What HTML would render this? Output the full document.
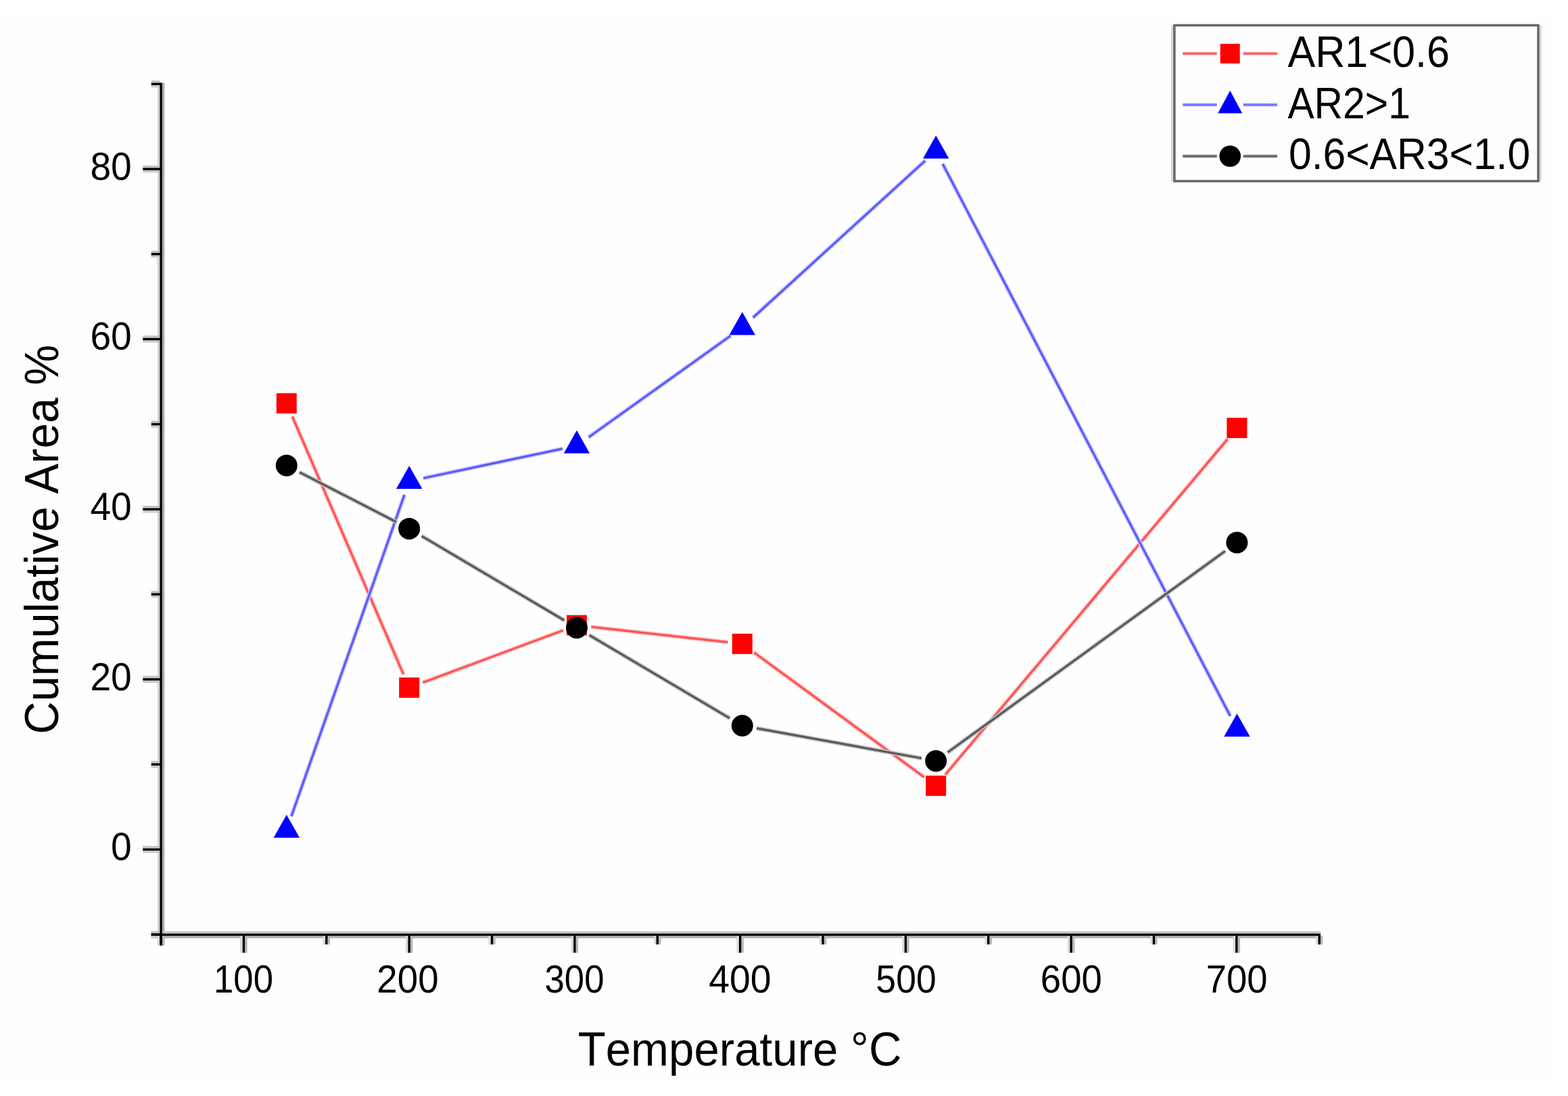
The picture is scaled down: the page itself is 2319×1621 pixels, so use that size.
<!DOCTYPE html><html><head><meta charset="utf-8"><title>Cumulative Area vs Temperature</title><style>html,body{margin:0;padding:0;background:#ffffff;overflow:hidden;}svg{display:block;}text{font-family:"Liberation Sans",Arial,sans-serif;fill:#000;font-kerning:none;font-feature-settings:"kern" 0;}</style></head><body>
<svg width="2319" height="1621" viewBox="0 0 2319 1621">
<rect x="0" y="0" width="2319" height="1621" fill="#ffffff"/>
<rect x="0" y="24.4" width="2301.4" height="1573.3" fill="#fefefe"/>
<rect x="232.90" y="122.50" width="3.50" height="1276.00" fill="#d3d3d3"/>
<rect x="239.80" y="122.50" width="3.50" height="1276.00" fill="#aaaaaa"/>
<rect x="223.70" y="1377.20" width="1729.21" height="3.50" fill="#c9c9c9"/>
<rect x="223.70" y="1384.10" width="1729.21" height="3.50" fill="#b0b0b0"/>
<rect x="211.30" y="1251.20" width="25.10" height="3.50" fill="#c4c4c4"/>
<rect x="211.30" y="1258.10" width="25.10" height="3.50" fill="#cacaca"/>
<rect x="211.30" y="999.60" width="25.10" height="3.50" fill="#c4c4c4"/>
<rect x="211.30" y="1006.50" width="25.10" height="3.50" fill="#cacaca"/>
<rect x="211.30" y="748.00" width="25.10" height="3.50" fill="#c4c4c4"/>
<rect x="211.30" y="754.90" width="25.10" height="3.50" fill="#cacaca"/>
<rect x="211.30" y="496.40" width="25.10" height="3.50" fill="#c4c4c4"/>
<rect x="211.30" y="503.30" width="25.10" height="3.50" fill="#cacaca"/>
<rect x="211.30" y="244.80" width="25.10" height="3.50" fill="#c4c4c4"/>
<rect x="211.30" y="251.70" width="25.10" height="3.50" fill="#cacaca"/>
<rect x="223.70" y="1377.00" width="12.70" height="3.50" fill="#c4c4c4"/>
<rect x="223.70" y="1383.90" width="12.70" height="3.50" fill="#cacaca"/>
<rect x="223.70" y="1125.40" width="12.70" height="3.50" fill="#c4c4c4"/>
<rect x="223.70" y="1132.30" width="12.70" height="3.50" fill="#cacaca"/>
<rect x="223.70" y="873.80" width="12.70" height="3.50" fill="#c4c4c4"/>
<rect x="223.70" y="880.70" width="12.70" height="3.50" fill="#cacaca"/>
<rect x="223.70" y="622.20" width="12.70" height="3.50" fill="#c4c4c4"/>
<rect x="223.70" y="629.10" width="12.70" height="3.50" fill="#cacaca"/>
<rect x="223.70" y="370.60" width="12.70" height="3.50" fill="#c4c4c4"/>
<rect x="223.70" y="377.50" width="12.70" height="3.50" fill="#cacaca"/>
<rect x="223.70" y="119.00" width="12.70" height="3.50" fill="#c4c4c4"/>
<rect x="223.70" y="125.90" width="12.70" height="3.50" fill="#cacaca"/>
<rect x="355.26" y="1384.10" width="3.50" height="25.10" fill="#dadada"/>
<rect x="362.16" y="1384.10" width="3.50" height="25.10" fill="#b8b8b8"/>
<rect x="599.99" y="1384.10" width="3.50" height="25.10" fill="#dadada"/>
<rect x="606.89" y="1384.10" width="3.50" height="25.10" fill="#b8b8b8"/>
<rect x="844.72" y="1384.10" width="3.50" height="25.10" fill="#dadada"/>
<rect x="851.62" y="1384.10" width="3.50" height="25.10" fill="#b8b8b8"/>
<rect x="1089.45" y="1384.10" width="3.50" height="25.10" fill="#dadada"/>
<rect x="1096.36" y="1384.10" width="3.50" height="25.10" fill="#b8b8b8"/>
<rect x="1334.18" y="1384.10" width="3.50" height="25.10" fill="#dadada"/>
<rect x="1341.08" y="1384.10" width="3.50" height="25.10" fill="#b8b8b8"/>
<rect x="1578.91" y="1384.10" width="3.50" height="25.10" fill="#dadada"/>
<rect x="1585.81" y="1384.10" width="3.50" height="25.10" fill="#b8b8b8"/>
<rect x="1823.64" y="1384.10" width="3.50" height="25.10" fill="#dadada"/>
<rect x="1830.54" y="1384.10" width="3.50" height="25.10" fill="#b8b8b8"/>
<rect x="232.90" y="1384.10" width="3.50" height="12.70" fill="#dadada"/>
<rect x="239.80" y="1384.10" width="3.50" height="12.70" fill="#b8b8b8"/>
<rect x="477.63" y="1384.10" width="3.50" height="12.70" fill="#dadada"/>
<rect x="484.53" y="1384.10" width="3.50" height="12.70" fill="#b8b8b8"/>
<rect x="722.36" y="1384.10" width="3.50" height="12.70" fill="#dadada"/>
<rect x="729.26" y="1384.10" width="3.50" height="12.70" fill="#b8b8b8"/>
<rect x="967.09" y="1384.10" width="3.50" height="12.70" fill="#dadada"/>
<rect x="973.99" y="1384.10" width="3.50" height="12.70" fill="#b8b8b8"/>
<rect x="1211.82" y="1384.10" width="3.50" height="12.70" fill="#dadada"/>
<rect x="1218.72" y="1384.10" width="3.50" height="12.70" fill="#b8b8b8"/>
<rect x="1456.55" y="1384.10" width="3.50" height="12.70" fill="#dadada"/>
<rect x="1463.45" y="1384.10" width="3.50" height="12.70" fill="#b8b8b8"/>
<rect x="1701.28" y="1384.10" width="3.50" height="12.70" fill="#dadada"/>
<rect x="1708.18" y="1384.10" width="3.50" height="12.70" fill="#b8b8b8"/>
<rect x="1946.01" y="1384.10" width="3.50" height="12.70" fill="#dadada"/>
<rect x="1952.91" y="1384.10" width="3.50" height="12.70" fill="#b8b8b8"/>
<rect x="236.40" y="122.50" width="3.40" height="1276.00" fill="#000"/>
<rect x="223.70" y="1380.70" width="1729.21" height="3.40" fill="#000"/>
<rect x="211.30" y="1254.70" width="26.80" height="3.40" fill="#000"/>
<rect x="211.30" y="1003.10" width="26.80" height="3.40" fill="#000"/>
<rect x="211.30" y="751.50" width="26.80" height="3.40" fill="#000"/>
<rect x="211.30" y="499.90" width="26.80" height="3.40" fill="#000"/>
<rect x="211.30" y="248.30" width="26.80" height="3.40" fill="#000"/>
<rect x="223.70" y="1380.50" width="14.40" height="3.40" fill="#000"/>
<rect x="223.70" y="1128.90" width="14.40" height="3.40" fill="#000"/>
<rect x="223.70" y="877.30" width="14.40" height="3.40" fill="#000"/>
<rect x="223.70" y="625.70" width="14.40" height="3.40" fill="#000"/>
<rect x="223.70" y="374.10" width="14.40" height="3.40" fill="#000"/>
<rect x="223.70" y="122.50" width="14.40" height="3.40" fill="#000"/>
<rect x="358.76" y="1382.40" width="3.40" height="26.80" fill="#000"/>
<rect x="603.49" y="1382.40" width="3.40" height="26.80" fill="#000"/>
<rect x="848.22" y="1382.40" width="3.40" height="26.80" fill="#000"/>
<rect x="1092.95" y="1382.40" width="3.40" height="26.80" fill="#000"/>
<rect x="1337.68" y="1382.40" width="3.40" height="26.80" fill="#000"/>
<rect x="1582.41" y="1382.40" width="3.40" height="26.80" fill="#000"/>
<rect x="1827.14" y="1382.40" width="3.40" height="26.80" fill="#000"/>
<rect x="236.40" y="1382.40" width="3.40" height="14.40" fill="#000"/>
<rect x="481.13" y="1382.40" width="3.40" height="14.40" fill="#000"/>
<rect x="725.86" y="1382.40" width="3.40" height="14.40" fill="#000"/>
<rect x="970.59" y="1382.40" width="3.40" height="14.40" fill="#000"/>
<rect x="1215.32" y="1382.40" width="3.40" height="14.40" fill="#000"/>
<rect x="1460.05" y="1382.40" width="3.40" height="14.40" fill="#000"/>
<rect x="1704.78" y="1382.40" width="3.40" height="14.40" fill="#000"/>
<rect x="1949.51" y="1382.40" width="3.40" height="14.40" fill="#000"/>
<text transform="translate(164.07,1272.20) scale(0.9680,1)" font-size="57">0</text>
<text transform="translate(133.38,1020.60) scale(0.9680,1)" font-size="57">20</text>
<text transform="translate(133.38,769.00) scale(0.9680,1)" font-size="57">40</text>
<text transform="translate(133.38,517.40) scale(0.9680,1)" font-size="57">60</text>
<text transform="translate(133.38,265.80) scale(0.9680,1)" font-size="57">80</text>
<text transform="translate(315.98,1468.40) scale(0.9262,1)" font-size="57">100</text>
<text transform="translate(557.25,1468.40) scale(0.9610,1)" font-size="57">200</text>
<text transform="translate(805.49,1468.40) scale(0.9261,1)" font-size="57">300</text>
<text transform="translate(1048.23,1468.40) scale(0.9720,1)" font-size="57">400</text>
<text transform="translate(1295.36,1468.40) scale(0.9394,1)" font-size="57">500</text>
<text transform="translate(1538.83,1468.40) scale(0.9569,1)" font-size="57">600</text>
<text transform="translate(1783.71,1468.40) scale(0.9561,1)" font-size="57">700</text>
<text transform="translate(854.69,1575.80) scale(0.9602,1)" font-size="70">Temperature °C</text>
<text transform="translate(86.30,1085.92) rotate(-90) scale(0.9619,1)" font-size="70">Cumulative Area %</text>
<path d="M432.3 616.2L596.7 997.3M625.3 1009.5L832.9 932.2M874.4 927.1L1076.4 949.9M1115.1 965.0L1366.9 1149.5M1398.0 1145.7L1815.6 649.4" stroke="#ffc4c4" stroke-width="6.4" fill="none"/>
<path d="M432.3 616.2L596.7 997.3M625.3 1009.5L832.9 932.2M874.4 927.1L1076.4 949.9M1115.1 965.0L1366.9 1149.5M1398.0 1145.7L1815.6 649.4" stroke="#ff5252" stroke-width="3.2" fill="none"/>
<path d="M430.9 1207.4L598.1 731.9M626.2 707.2L832.0 663.6M870.5 646.7L1080.3 496.7M1113.7 469.7L1368.3 237.7M1394.1 242.3L1819.5 1059.1" stroke="#c8c8ff" stroke-width="6.4" fill="none"/>
<path d="M430.9 1207.4L598.1 731.9M626.2 707.2L832.0 663.6M870.5 646.7L1080.3 496.7M1113.7 469.7L1368.3 237.7M1394.1 242.3L1819.5 1059.1" stroke="#5a5aff" stroke-width="3.2" fill="none"/>
<path d="M442.9 698.3L586.1 772.0M623.7 792.8L834.5 917.5M871.5 939.3L1079.3 1062.3M1119.0 1077.1L1363.0 1121.5M1401.6 1112.8L1812.0 815.0" stroke="#c4c4c4" stroke-width="6.4" fill="none"/>
<path d="M442.9 698.3L586.1 772.0M623.7 792.8L834.5 917.5M871.5 939.3L1079.3 1062.3M1119.0 1077.1L1363.0 1121.5M1401.6 1112.8L1812.0 815.0" stroke="#5a5a5a" stroke-width="3.2" fill="none"/>
<rect x="408.8" y="581.5" width="30.0" height="30.0" fill="#ff0000"/>
<rect x="590.2" y="1002.0" width="30.0" height="30.0" fill="#ff0000"/>
<rect x="838.0" y="909.7" width="30.0" height="30.0" fill="#ff0000"/>
<rect x="1082.8" y="937.3" width="30.0" height="30.0" fill="#ff0000"/>
<rect x="1369.2" y="1147.2" width="30.0" height="30.0" fill="#ff0000"/>
<rect x="1814.4" y="617.9" width="30.0" height="30.0" fill="#ff0000"/>
<path d="M423.8 1205.0L443.1 1239.0L404.6 1239.0Z" fill="#0000ff"/>
<path d="M605.2 689.0L624.5 723.0L586.0 723.0Z" fill="#0000ff"/>
<path d="M853.0 636.5L872.2 670.5L833.8 670.5Z" fill="#0000ff"/>
<path d="M1097.8 461.5L1117.0 495.5L1078.5 495.5Z" fill="#0000ff"/>
<path d="M1384.2 200.6L1403.5 234.6L1365.0 234.6Z" fill="#0000ff"/>
<path d="M1829.4 1055.5L1848.7 1089.5L1810.2 1089.5Z" fill="#0000ff"/>
<circle cx="423.8" cy="688.4" r="16.0" fill="#000"/>
<circle cx="605.2" cy="781.9" r="16.0" fill="#000"/>
<circle cx="853.0" cy="928.4" r="16.0" fill="#000"/>
<circle cx="1097.8" cy="1073.2" r="16.0" fill="#000"/>
<circle cx="1384.2" cy="1125.4" r="16.0" fill="#000"/>
<circle cx="1829.4" cy="802.4" r="16.0" fill="#000"/>
<rect x="1732.00" y="37.40" width="3.20" height="230.50" fill="#d8d8d8"/>
<rect x="2276.70" y="37.40" width="3.20" height="230.50" fill="#d8d8d8"/>
<rect x="1736.9" y="37.4" width="538.1" height="230.5" fill="none" stroke="#676767" stroke-width="3.5"/>
<path d="M1749.3 79.3H1799.7M1838.7 79.3H1888.9" stroke="#ffc4c4" stroke-width="5.5" fill="none"/>
<path d="M1749.3 79.3H1799.7M1838.7 79.3H1888.9" stroke="#ff5a5a" stroke-width="3.0" fill="none"/>
<rect x="1804.7" y="64.8" width="29" height="29" fill="#ff0000"/>
<text transform="translate(1904.38,99.20) scale(0.9560,1)" font-size="64">AR1&lt;0.6</text>
<path d="M1749.3 155.0H1799.7M1838.7 155.0H1888.9" stroke="#c8c8ff" stroke-width="5.5" fill="none"/>
<path d="M1749.3 155.0H1799.7M1838.7 155.0H1888.9" stroke="#7070ff" stroke-width="3.0" fill="none"/>
<path d="M1819.2 134.0L1837.2 167.5L1801.2 167.5Z" fill="#0000ff"/>
<text transform="translate(1904.39,175.40) scale(0.9191,1)" font-size="64">AR2&gt;1</text>
<path d="M1749.3 231.0H1799.7M1838.7 231.0H1888.9" stroke="#c8c8c8" stroke-width="5.5" fill="none"/>
<path d="M1749.3 231.0H1799.7M1838.7 231.0H1888.9" stroke="#606060" stroke-width="3.0" fill="none"/>
<circle cx="1819.2" cy="231.0" r="15.8" fill="#000"/>
<text transform="translate(1905.93,250.40) scale(0.9471,1)" font-size="64">0.6&lt;AR3&lt;1.0</text>
</svg></body></html>
